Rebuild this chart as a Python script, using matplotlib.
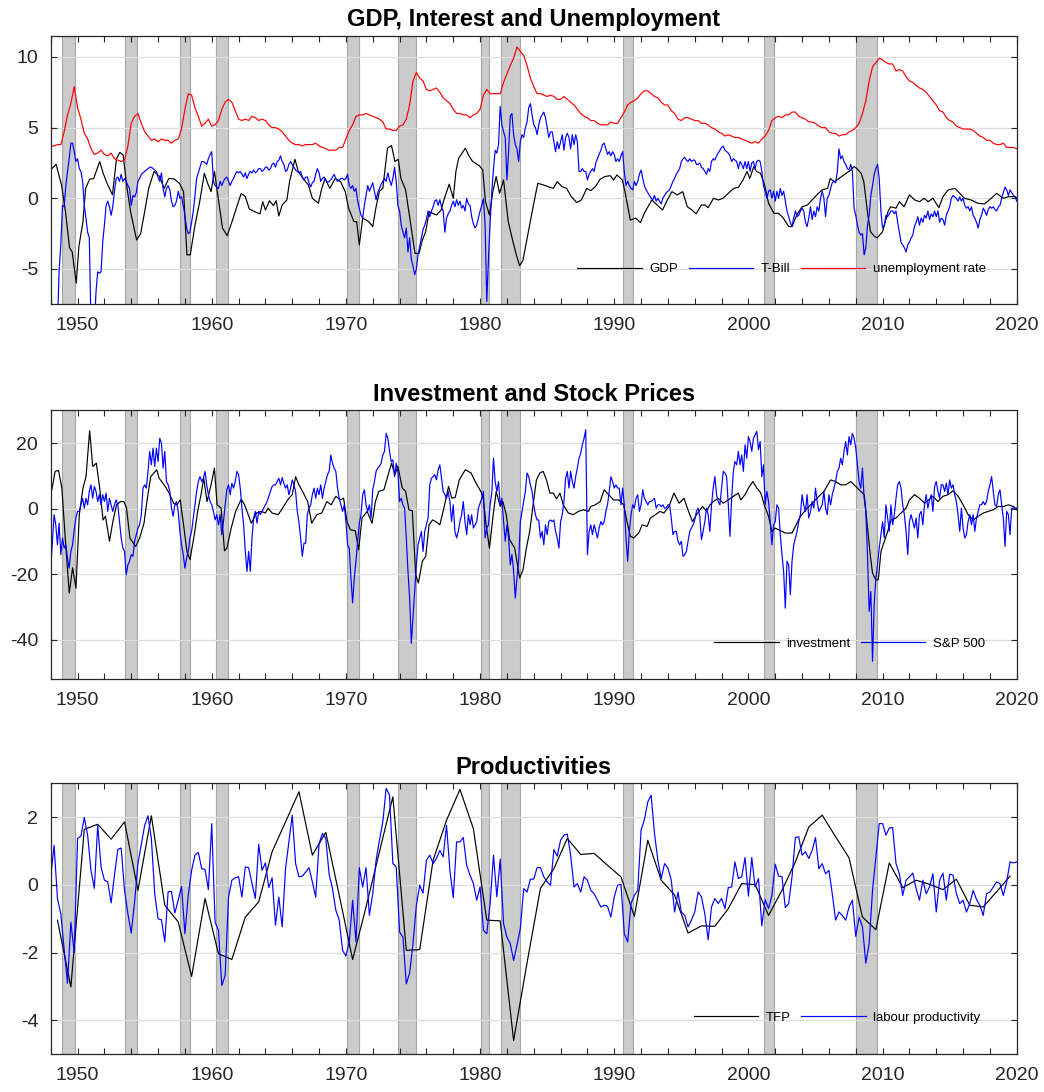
import numpy as np
import matplotlib
matplotlib.use('Agg')
import matplotlib.pyplot as plt
from matplotlib.ticker import FixedLocator

plt.rcParams['font.family'] = ['Liberation Sans', 'DejaVu Sans']
plt.rcParams['axes.unicode_minus'] = False

###### DATA ##########
# NBER recessions (start, end), as shaded in the chart
recessions = [(1948.85, 1949.8), (1953.55, 1954.4), (1957.65, 1958.35), (1960.35, 1961.2),
              (1970.1, 1971.0), (1973.875, 1975.25), (1980.08, 1980.65), (1981.58, 1982.98),
              (1990.65, 1991.375), (2001.175, 2001.925), (2008.0, 2009.55)]

# unemployment rate, quarterly from 1948.0
unemp_start, unemp_step = 1948.0, 0.25
unemp = [3.7, 3.7, 3.8, 3.8, 4.7, 5.9, 6.7, 7.9, 6.4, 5.6, 4.6, 4.2, 3.5, 3.1, 3.2, 3.4,
         3.1, 3.0, 3.2, 2.8, 2.7, 2.6, 2.7, 3.7, 5.3, 5.8, 6.0, 5.3, 4.7, 4.4, 4.1, 4.2,
         4.0, 4.2, 4.1, 4.1, 3.9, 4.1, 4.2, 4.9, 6.3, 7.4, 7.3, 6.4, 5.8, 5.1, 5.3, 5.6,
         5.1, 5.2, 5.5, 6.3, 6.8, 7.0, 6.8, 6.2, 5.6, 5.5, 5.6, 5.5, 5.8, 5.7, 5.5, 5.6,
         5.5, 5.2, 5.0, 5.0, 4.9, 4.7, 4.4, 4.1, 3.9, 3.8, 3.8, 3.7, 3.8, 3.8, 3.8, 3.9,
         3.7, 3.6, 3.5, 3.4, 3.4, 3.4, 3.6, 3.6, 4.2, 4.8, 5.2, 5.8, 5.9, 5.9, 6.0, 5.9,
         5.8, 5.7, 5.6, 5.4, 4.9, 4.9, 4.8, 4.8, 5.1, 5.2, 5.6, 6.6, 8.3, 8.9, 8.5, 8.3,
         7.7, 7.6, 7.7, 7.8, 7.5, 7.1, 6.9, 6.7, 6.3, 6.0, 6.0, 5.9, 5.9, 5.7, 5.9, 6.0,
         6.3, 7.3, 7.7, 7.4, 7.4, 7.4, 7.4, 8.2, 8.8, 9.4, 9.9, 10.7, 10.4, 10.1, 9.4, 8.5,
         7.9, 7.4, 7.4, 7.3, 7.2, 7.3, 7.2, 7.0, 7.0, 7.2, 7.0, 6.8, 6.6, 6.3, 6.0, 5.8,
         5.7, 5.5, 5.5, 5.3, 5.2, 5.2, 5.2, 5.4, 5.3, 5.3, 5.7, 6.1, 6.6, 6.8, 6.9, 7.1,
         7.4, 7.6, 7.6, 7.4, 7.2, 7.1, 6.8, 6.6, 6.6, 6.2, 6.0, 5.6, 5.5, 5.7, 5.7, 5.6,
         5.5, 5.5, 5.3, 5.3, 5.2, 5.0, 4.9, 4.7, 4.6, 4.4, 4.5, 4.4, 4.3, 4.3, 4.2, 4.1,
         4.0, 3.9, 4.0, 3.9, 4.2, 4.4, 4.8, 5.5, 5.7, 5.8, 5.7, 5.9, 5.9, 6.1, 6.1, 5.8,
         5.7, 5.6, 5.4, 5.4, 5.3, 5.1, 5.0, 5.0, 4.7, 4.6, 4.6, 4.4, 4.5, 4.5, 4.7, 4.8,
         5.0, 5.3, 6.0, 6.9, 8.3, 9.3, 9.6, 9.9, 9.8, 9.6, 9.5, 9.5, 9.0, 9.1, 9.0, 8.6,
         8.3, 8.2, 8.0, 7.8, 7.7, 7.5, 7.2, 6.9, 6.6, 6.2, 6.1, 5.7, 5.5, 5.4, 5.1, 5.0,
         4.9, 4.9, 4.9, 4.8, 4.6, 4.4, 4.3, 4.1, 4.1, 3.9, 3.8, 3.8, 3.9, 3.6, 3.6, 3.6,
         3.5]

# T-Bill (real), every 1.5 months from 1948.0
tbill_start, tbill_step = 1948.0, 0.125
tbill = [-5.9, -9, -9, -9, -9, -5.1, -3.3, -0.5, -0.6, 0.9, 1.9, 2.8, 3.9, 3.9, 3.3, 2.6,
         2.8, 2.1, 1.9, 1.2, -0.5, -1.4, -2.4, -2.8, -9, -9, -9, -6.6, -5.2, -5.3, -5.2, -3.1,
         -1.9, -0.5, -0.2, -0.6, -1.2, -0.6, 0.5, 1.4, 1.5, 1.2, 1.7, 1.2, 1.4, 1.2, 0.9, 0.7,
         -0.5, 0.2, 0.1, 0.4, 1.2, 1.4, 1.7, 1.8, 1.9, 2.0, 2.1, 2.2, 2.2, 2.1, 2.0, 1.9,
         1.5, 1.2, 1.8, 0.7, 0.1, 0.7, 0.9, 0.6, -0.2, -0.6, -0.5, -0.2, 0.5, 0.0, 0.1, -0.5,
         -1.2, -2.1, -2.5, -2.4, -1.7, -0.9, 0.2, 1.4, 1.8, 2.2, 2.6, 2.6, 2.5, 2.4, 2.8, 3.1,
         3.3, 1.2, 0.9, 0.8, 0.7, 1.2, 0.9, 1.2, 1.4, 1.5, 1.2, 0.9, 1.2, 1.4, 1.7, 1.9,
         1.8, 1.9, 1.7, 1.5, 1.8, 1.4, 1.7, 1.9, 1.8, 2.0, 1.8, 1.9, 2.1, 2.1, 1.9, 2.0,
         2.2, 2.2, 2.0, 2.1, 2.4, 2.5, 2.2, 2.6, 2.7, 3.0, 2.6, 2.4, 1.9, 2.0, 2.4, 2.6,
         2.4, 2.2, 2.0, 1.9, 1.8, 1.9, 1.5, 1.3, 1.5, 1.5, 1.1, 0.8, 1.1, 1.2, 1.7, 2.1,
         1.8, 1.2, 1.4, 1.5, 1.3, 1.1, 1.2, 1.3, 1.5, 1.7, 1.4, 1.2, 1.3, 1.4, 1.4, 1.3,
         1.4, 1.7, 0.9, 0.7, 0.9, 0.5, 0.7, -0.2, -0.7, -1.2, -1.4, -0.5, 0.2, 0.9, 0.5, 0.8,
         1.1, 0.5, -0.1, 0.4, 0.7, 1.0, 1.2, 1.4, 1.2, 1.8, 1.3, 0.9, 1.4, 2.2, 1.2, -0.5,
         -0.9, -1.9, -2.4, -2.8, -2.1, -3.8, -2.8, -4.3, -4.8, -5.4, -5.0, -4.0, -3.4, -2.8, -2.2, -1.9,
         -1.5, -0.9, -1.3, -0.9, -0.6, -0.2, -0.1, -0.5, -0.1, -0.6, -0.9, -2.4, -1.4, -1.1, -0.9, -0.5,
         -0.2, -0.6, -0.1, -0.5, -0.2, -0.7, -0.5, -0.9, 0.0, -0.4, -0.5, -1.3, -1.8, -2.1, -1.9, -1.4,
         -0.9, -0.5, 0.0, -1.9, -7.3, -4.3, -1.7, 0.5, 2.1, 3.4, 3.2, 3.8, 6.5, 5.2, 4.7, 4.3,
         1.3, 3.3, 5.8, 6.0, 4.5, 3.8, 3.5, 2.6, 4.0, 4.5, 4.3, 5.0, 5.4, 6.4, 6.7, 5.9,
         5.2, 5.0, 4.5, 5.2, 5.7, 5.9, 6.1, 5.7, 5.0, 4.3, 4.7, 4.7, 4.0, 3.3, 4.0, 3.5,
         4.0, 4.5, 3.4, 4.3, 4.6, 4.3, 3.5, 4.5, 3.8, 4.5, 4.0, 1.9, 1.9, 2.1, 1.9, 1.9,
         1.3, 1.7, 1.9, 2.1, 1.9, 2.5, 2.8, 3.1, 3.4, 3.8, 3.9, 3.5, 3.1, 3.3, 3.0, 3.3,
         3.1, 2.6, 2.8, 2.6, 3.0, 3.3, 1.9, 0.9, 1.2, 0.9, 0.7, 0.6, 1.2, 0.9, 1.2, 1.7,
         2.0, 1.4, 0.9, 0.6, 0.4, 0.2, 0.0, -0.1, 0.2, -0.2, 0.0, -0.2, -0.4, 0.0, 0.2, 0.4,
         0.5, 0.6, 0.9, 1.2, 1.4, 1.7, 1.9, 2.1, 2.6, 2.8, 2.9, 2.7, 2.6, 2.8, 2.6, 2.7,
         2.7, 2.4, 2.4, 2.5, 2.2, 2.1, 1.9, 1.7, 2.1, 1.9, 2.6, 2.8, 2.7, 3.0, 3.2, 3.4,
         3.6, 3.7, 3.4, 3.3, 3.2, 3.0, 2.6, 2.8, 2.7, 2.6, 2.1, 2.6, 2.4, 2.1, 2.6, 2.1,
         2.6, 1.9, 2.5, 2.6, 2.1, 2.6, 2.7, 2.6, 1.9, 0.9, 0.5, 0.0, 0.5, 0.6, 0.0, 0.5,
         -0.2, 0.5, 0.0, 0.7, 0.2, 0.5, -0.2, -0.9, -1.3, -1.7, -2.0, -1.4, -0.9, -1.3, -1.2, -0.9,
         -0.7, -0.9, -1.7, -2.0, -1.4, -0.6, -1.5, -0.9, -1.3, -0.6, -0.9, 0.0, 0.5, 0.0, -1.3, 0.0,
         0.2, 0.7, 1.1, 1.2, 1.1, 1.9, 3.5, 2.8, 3.0, 2.6, 2.4, 2.1, 2.0, 2.4, 1.9, -0.7,
         -1.2, -1.9, -2.4, -2.6, -2.5, -4.0, -3.5, -1.9, -1.2, 0.2, 0.9, 1.7, 2.1, 2.4, 1.4, -0.9,
         -2.1, -1.9, -1.2, -1.3, -1.1, -0.9, -0.9, -1.1, -0.9, -1.7, -2.4, -3.1, -3.3, -3.5, -3.8, -3.3,
         -3.1, -2.8, -2.6, -2.0, -1.7, -1.3, -1.9, -1.4, -1.7, -1.2, -1.4, -0.9, -1.5, -1.1, -1.3, -0.9,
         -1.3, -0.9, -1.7, -1.4, -1.5, -1.9, -1.2, -0.9, -0.6, 0.0, 0.2, 0.1, 0.0, -0.2, 0.1, -0.2,
         0.0, -0.5, -0.7, -0.6, -0.9, -0.6, -1.2, -1.4, -1.7, -2.1, -1.5, -1.2, -0.7, -0.9, -1.2, -0.8,
         -0.6, -0.7, -0.6, -0.8, -0.9, -0.6, -0.5, 0.0, 0.4, 0.8, 0.6, 0.2, 0.6, 0.4, 0.2, 0.1,
         -0.2]

# GDP (cyclical component)
gdp_year = [1948.08, 1948.4, 1948.8, 1949.1, 1949.4, 1949.6, 1949.9, 1950.1, 1950.4, 1950.6,
            1950.9, 1951.2, 1951.65, 1951.9, 1952.2, 1952.6, 1952.9, 1953.15, 1953.4, 1953.65,
            1953.95, 1954.4, 1954.7, 1955.0, 1955.3, 1955.7, 1956.1, 1956.45, 1956.8, 1957.2,
            1957.6, 1957.9, 1958.15, 1958.4, 1958.75, 1959.1, 1959.45, 1959.7, 1959.95, 1960.2,
            1960.45, 1960.8, 1961.15, 1961.6, 1961.95, 1962.2, 1962.5, 1962.8, 1963.2, 1963.6,
            1963.8, 1964.0, 1964.3, 1964.6, 1964.8, 1965.0, 1965.25, 1965.6, 1965.8, 1966.2,
            1966.45, 1966.8, 1967.2, 1967.5, 1967.95, 1968.2, 1968.45, 1968.8, 1969.2, 1969.6,
            1969.95, 1970.2, 1970.6, 1970.8, 1971.0, 1971.25, 1971.7, 1972.0, 1972.25, 1972.5,
            1972.75, 1973.1, 1973.4, 1973.65, 1973.9, 1974.1, 1974.45, 1974.8, 1975.15, 1975.45,
            1975.7, 1975.95, 1976.2, 1976.45, 1976.75, 1977.1, 1977.3, 1977.7, 1978.0, 1978.2,
            1978.4, 1978.9, 1979.2, 1979.45, 1979.95, 1980.2, 1980.4, 1980.7, 1980.95, 1981.2,
            1981.45, 1981.75, 1982.1, 1982.45, 1982.7, 1982.95, 1983.2, 1983.6, 1983.95, 1984.3,
            1984.7, 1985.2, 1985.45, 1985.75, 1986.1, 1986.45, 1986.8, 1987.2, 1987.55, 1987.95,
            1988.25, 1988.6, 1988.95, 1989.3, 1989.7, 1989.95, 1990.2, 1990.6, 1990.8, 1991.2,
            1991.6, 1991.95, 1992.3, 1992.8, 1993.2, 1993.6, 1993.95, 1994.3, 1994.7, 1995.1,
            1995.45, 1995.8, 1996.1, 1996.5, 1996.75, 1997.0, 1997.4, 1997.75, 1998.1, 1998.5,
            1998.9, 1999.25, 1999.6, 1999.9, 2000.1, 2000.4, 2000.6, 2000.9, 2001.2, 2001.5,
            2001.9, 2002.25, 2002.6, 2003.0, 2003.25, 2003.6, 2004.0, 2004.4, 2004.75, 2005.1,
            2005.5, 2005.9, 2006.1, 2006.4, 2006.75, 2007.1, 2007.5, 2007.9, 2008.1, 2008.4,
            2008.6, 2008.9, 2009.1, 2009.4, 2009.6, 2010.0, 2010.4, 2010.6, 2011.0, 2011.25,
            2011.6, 2012.0, 2012.4, 2012.75, 2013.1, 2013.4, 2013.75, 2014.2, 2014.5, 2014.9,
            2015.4, 2015.75, 2016.1, 2016.6, 2017.1, 2017.6, 2018.1, 2018.5, 2019.0, 2019.4,
            2019.9, 2020.0]
gdp = [2.1, 2.4, 0.95, -0.95, -3.5, -3.8, -6.0, -3.4, -1.65, 0.7,
       1.35, 1.4, 2.6, 1.8, 1.05, 0.25, 2.8, 3.25, 3.05, 0.95,
       -0.95, -2.95, -2.5, -0.95, 0.7, 1.9, 1.55, 0.7, 1.4, 1.37,
       1.05, 0.47, -4.0, -4.0, -1.9, -0.25, 1.77, 1.05, 0.47, 1.9,
       0.24, -2.1, -2.65, -1.4, -0.35, 0.35, 0.12, -0.75, -0.95, -1.1,
       -0.24, -0.83, -0.17, -0.52, -0.17, -1.25, -0.47, -0.12, 1.18, 2.76,
       1.9, 1.4, 0.95, 0.0, -0.35, 0.7, 1.4, 0.7, 1.4, 1.18,
       0.47, -0.7, -1.65, -1.65, -3.3, -1.4, -1.65, -2.0, -0.6, 0.5,
       0.7, 3.55, 3.73, 2.6, 2.76, 1.4, 0.6, -1.65, -3.9, -3.9,
       -2.95, -2.36, -0.95, -1.06, -1.18, -0.83, -0.12, 1.0, 0.0, 1.9,
       2.83, 3.54, 2.95, 2.6, 2.3, 2.0, -0.24, -1.18, 0.47, 1.54,
       0.35, 1.3, -1.65, -3.07, -4.0, -4.77, -4.37, -2.36, -0.6, 1.06,
       0.95, 0.78, 0.7, 1.18, 0.83, 0.7, 0.12, -0.3, -0.12, 0.7,
       0.54, 0.83, 1.35, 1.54, 1.6, 1.3, 1.65, 1.3, 0.47, -1.54,
       -1.4, -1.72, -0.95, -0.12, -0.47, -0.83, -0.12, 0.47, 0.24, 0.47,
       -0.6, -0.83, -1.1, -0.47, -0.47, -0.66, 0.0, -0.12, 0.0, 0.35,
       0.7, 0.78, 1.3, 1.9, 1.4, 2.24, 1.9, 1.77, 0.95, -0.35,
       -1.06, -1.06, -1.4, -2.0, -2.0, -1.18, -0.6, -0.47, -0.12, 0.24,
       0.6, 0.7, 1.4, 1.18, 1.4, 1.65, 1.9, 2.24, 2.08, 1.77,
       1.18, -1.18, -2.36, -2.7, -2.8, -2.36, -0.95, -0.6, -0.7, -0.24,
       -0.6, 0.24, -0.12, -0.24, 0.0, -0.24, 0.0, -0.66, 0.12, 0.6,
       0.7, 0.35, 0.0, -0.12, -0.35, -0.4, 0.0, 0.35, 0.0, 0.12,
       0.12, 0.0]

# investment (cyclical component)
inv_year = [1948.08, 1948.33, 1948.58, 1948.83, 1949.08, 1949.38, 1949.63, 1949.88, 1950.13, 1950.4,
            1950.63, 1950.9, 1951.13, 1951.4, 1951.65, 1951.9, 1952.08, 1952.38, 1952.63, 1952.9,
            1953.2, 1953.45, 1953.65, 1953.9, 1954.33, 1954.63, 1954.95, 1955.2, 1955.45, 1955.9,
            1956.08, 1956.45, 1956.83, 1957.15, 1957.4, 1957.65, 1957.9, 1958.15, 1958.38, 1958.7,
            1958.95, 1959.2, 1959.4, 1959.65, 1959.95, 1960.2, 1960.4, 1960.7, 1960.95, 1961.13,
            1961.45, 1961.78, 1962.2, 1962.45, 1962.95, 1963.33, 1963.7, 1964.0, 1964.2, 1964.5,
            1964.95, 1965.2, 1965.58, 1965.75, 1966.0, 1966.25, 1966.5, 1966.83, 1967.15, 1967.45,
            1967.83, 1968.2, 1968.58, 1968.9, 1969.25, 1969.58, 1969.83, 1970.08, 1970.33, 1970.7,
            1970.95, 1971.2, 1971.58, 1971.95, 1972.2, 1972.45, 1972.83, 1973.08, 1973.4, 1973.65,
            1973.88, 1974.2, 1974.45, 1974.7, 1974.95, 1975.2, 1975.4, 1975.7, 1975.95, 1976.2,
            1976.45, 1976.7, 1977.0, 1977.33, 1977.65, 1977.9, 1978.15, 1978.45, 1978.9, 1979.33,
            1979.7, 1980.08, 1980.25, 1980.45, 1980.7, 1980.95, 1981.2, 1981.5, 1981.7, 1981.95,
            1982.2, 1982.58, 1982.95, 1983.2, 1983.45, 1983.7, 1983.95, 1984.2, 1984.45, 1984.7,
            1984.95, 1985.2, 1985.45, 1985.7, 1985.95, 1986.2, 1986.58, 1986.95, 1987.33, 1987.7,
            1988.08, 1988.25, 1988.58, 1988.95, 1989.25, 1989.58, 1989.95, 1990.33, 1990.7, 1990.95,
            1991.2, 1991.45, 1991.83, 1992.08, 1992.45, 1992.7, 1993.08, 1993.4, 1993.7, 1994.08,
            1994.45, 1994.83, 1995.2, 1995.45, 1995.83, 1996.13, 1996.58, 1996.88, 1997.13, 1997.38,
            1997.75, 1998.13, 1998.5, 1998.88, 1999.25, 1999.43, 1999.75, 2000.0, 2000.33, 2000.63,
            2000.93, 2001.18, 2001.5, 2001.75, 2002.0, 2002.25, 2002.75, 2003.25, 2003.5, 2003.88,
            2004.38, 2004.88, 2005.25, 2005.63, 2006.13, 2006.5, 2006.88, 2007.25, 2007.63, 2008.0,
            2008.38, 2008.63, 2008.83, 2009.08, 2009.25, 2009.5, 2009.68, 2009.88, 2010.13, 2010.38,
            2010.63, 2011.0, 2011.38, 2011.75, 2012.0, 2012.38, 2012.75, 2013.13, 2013.43, 2013.75,
            2014.13, 2014.5, 2014.88, 2015.25, 2015.63, 2016.0, 2016.38, 2016.75, 2017.13, 2017.5,
            2017.88, 2018.25, 2018.63, 2019.0, 2019.38, 2019.75, 2020.0]
inv = [5.8, 11.4, 11.7, 6.3, -8.9, -25.7, -18.0, -24.2, -1.8, 6.3,
       9.8, 23.8, 12.9, 13.9, 6.3, -3.4, -2.3, -9.9, -3.9, 1.2,
       2.2, 2.2, 0.2, -8.9, -11.5, -8.9, -4.4, 3.2, 9.8, 11.9,
       9.3, 7.3, 4.8, 1.7, 1.2, 2.7, -4.9, -13.0, -15.5, -7.9,
       -0.8, 4.3, 9.3, 2.2, 7.3, 12.4, 1.2, 0.2, -12.8, -12.0,
       -5.9, -0.8, 2.9, 1.2, -4.4, -1.3, -0.8, -1.3, 0.2, -1.3,
       -1.8, -0.3, 2.2, 3.2, 4.3, 9.8, 7.3, 4.8, 2.2, -4.4,
       -1.8, -1.3, 2.2, 1.2, 3.8, 2.7, 3.2, -3.9, -6.4, -6.7,
       -12.5, -2.8, -0.8, -4.4, 2.2, 5.3, 5.8, 9.3, 13.9, 10.4,
       12.9, 6.3, 5.3, -0.3, -0.6, -20.1, -22.6, -16.0, -14.5, -4.9,
       -3.4, -3.9, -4.9, 0.7, 6.8, 3.2, 3.5, 8.8, 11.9, 10.9,
       7.8, 5.1, 2.7, -4.9, -12.0, -2.8, 5.3, 0.7, 2.2, -1.8,
       -9.4, -12.0, -21.1, -18.6, -12.0, -6.9, 1.2, 8.8, 10.9, 11.4,
       8.8, 4.8, 4.8, 3.0, 4.8, 1.2, -1.3, -1.8, -0.8, -0.3,
       -0.8, 0.7, 1.2, 2.2, 5.8, 4.3, 2.7, 2.7, 1.2, -3.9,
       -8.4, -8.9, -7.4, -4.9, -5.4, -2.8, -1.8, -0.8, -1.3, 0.7,
       4.8, 1.7, 3.2, 0.2, -3.9, -1.8, 0.7, -0.8, 1.2, 2.2,
       3.2, 1.7, 2.7, 3.8, 4.8, 2.7, 4.3, 6.3, 8.3, 6.3,
       4.8, 1.2, -2.3, -6.9, -5.9, -6.4, -7.4, -7.4, -5.4, -2.3,
       0.2, 2.2, 3.8, 5.3, 8.8, 8.3, 7.3, 7.3, 8.3, 6.8,
       5.3, 4.3, -3.9, -14.0, -19.6, -21.7, -21.7, -13.0, -9.9, -6.9,
       -3.4, -2.8, -1.3, 0.2, 2.7, 4.3, 3.2, 1.7, 2.7, 3.8,
       2.2, 3.8, 4.3, 5.5, 3.8, 1.2, -1.8, -3.4, -2.3, -1.3,
       -0.8, -0.3, 0.7, 0.7, 1.2, 0.7, -0.3]

# S&P 500 (cyclical component), every 1.5 months from 1948.0
sp_start, sp_step = 1948.0, 0.125
sp500 = [-18.1, -9.9, -1.8, -4.9, -11.0, -4.4, -14.0, -8.9, -12.0, -11.0, -15.0, -18.1, -13.0, -11.0, -6.4, -2.8,
         -0.8, -0.8, 1.2, 3.2, 0.2, 3.2, 1.2, 5.3, 7.3, 3.2, 6.8, 5.3, 2.2, 4.3, 1.2, 4.3,
         2.2, 4.8, -0.8, 3.2, 1.2, -0.8, 1.2, 2.7, 1.2, -3.9, -8.9, -12.0, -13.0, -20.1, -17.1, -16.0,
         -14.0, -14.5, -9.9, -7.9, -5.9, -4.9, -1.8, 6.3, 7.3, 6.3, 11.4, 17.5, 13.4, 18.5, 12.9, 18.5,
         14.4, 21.5, 20.0, 12.4, 17.5, 8.3, 7.3, 5.3, 0.2, -2.3, 1.2, 2.2, -0.8, -6.9, -11.0, -14.0,
         -18.1, -15.0, -13.0, -8.9, -6.9, -2.8, 1.2, 5.3, 8.3, 9.8, 8.3, 9.3, 11.4, 7.3, 4.3, 2.2,
         1.2, -0.8, -3.4, -1.8, -4.9, -1.8, -7.9, -3.9, 1.2, 5.8, 7.3, 4.3, 7.8, 6.3, 8.3, 11.4,
         10.4, 6.3, 0.2, -4.9, -13.0, -19.1, -13.0, -19.1, -8.9, -2.8, -0.8, -4.4, -0.8, -1.8, -0.8, 0.2,
         1.2, 2.2, 3.8, 5.3, 6.8, 7.3, 7.3, 8.3, 9.3, 7.3, 9.5, 7.8, 6.3, 7.3, 4.3, 6.3,
         8.8, 7.3, 5.3, -0.8, -3.9, -8.9, -14.5, -10.5, -10.5, -1.8, 0.2, 1.2, 4.3, 6.3, 3.2, 6.3,
         4.3, 7.3, 3.2, 6.3, 8.3, 10.4, 11.4, 16.4, 13.9, 12.4, 11.4, 6.3, 3.2, 1.2, -0.8, 1.2,
         -3.9, -11.0, -12.0, -21.1, -28.7, -21.1, -16.0, -9.9, -4.4, -1.8, 4.3, 5.8, 1.2, -0.8, 1.2, -2.8,
         5.8, 8.3, 11.4, 12.4, 12.9, 13.9, 16.4, 17.5, 23.0, 21.5, 17.5, 14.4, 14.9, 9.8, 13.9, 11.4,
         2.2, 3.2, 1.2, 0.2, -8.9, -19.1, -27.2, -41.0, -33.3, -25.2, -17.1, -11.0, -8.9, -6.9, -13.0, -6.9,
         -4.9, -2.8, 7.3, 9.3, 9.8, 10.4, 8.8, 11.9, 13.4, 9.3, 5.3, 4.3, 3.2, 5.3, 2.2, -3.9,
         1.2, -6.9, -8.9, -6.9, -3.9, -1.8, 2.2, -3.9, -7.9, -1.8, -4.9, -1.8, -5.9, -4.9, -3.9, 0.2,
         1.7, 3.2, 5.3, -8.9, -5.9, -4.9, 1.2, 4.8, 15.4, 8.3, 5.3, 8.3, 1.2, 3.2, -3.9, -9.9,
         -4.9, -8.9, -17.1, -14.0, -19.1, -27.2, -21.1, -16.0, -3.9, -0.8, 2.2, 5.3, 10.9, 9.8, 7.3, 5.3,
         1.2, -1.8, -3.4, -3.4, -8.9, -6.9, -11.0, -4.9, -7.9, -3.9, -3.4, -3.9, -3.4, -6.9, -8.9, -12.0,
         -3.9, -1.8, 2.2, 9.3, 11.4, 6.3, 11.4, 8.3, 6.3, 9.8, 12.4, 15.4, 17.0, 19.5, 21.5, 24.1,
         -14.0, -6.9, -4.9, -7.9, -4.9, -6.9, -8.9, -5.9, -3.9, -4.9, -3.9, -0.8, 1.2, 5.3, 9.8, 8.3,
         6.3, 7.3, 6.3, 6.3, 1.2, 6.3, 1.2, -8.9, -16.0, -6.9, -1.8, 1.2, 0.2, 3.2, 4.3, -0.8,
         1.2, 5.8, 3.2, 2.2, 1.2, 2.2, 2.2, 2.7, 3.2, 0.2, 1.2, 1.2, 0.7, 1.2, 0.2, 0.2,
         1.2, 1.2, -2.8, -7.9, -6.9, -6.9, -9.9, -11.0, -9.9, -14.5, -14.0, -13.0, -9.9, -6.9, -5.9, -4.9,
         -3.4, -0.8, 0.2, -2.3, -9.4, -6.9, -3.9, 0.2, -1.8, -6.9, 1.2, 6.3, 9.8, 4.3, 2.2, 1.2,
         6.3, 11.4, 10.9, 9.8, 1.2, -8.4, 3.2, 11.4, 14.4, 13.4, 17.5, 13.4, 16.4, 11.4, 19.5, 15.4,
         22.0, 20.5, 17.5, 21.5, 22.5, 23.6, 18.0, 20.5, 9.8, 13.4, 1.2, 5.3, 2.2, -3.9, -11.0, -4.9,
         -3.9, 1.2, 0.2, -7.9, -14.0, -19.1, -30.3, -16.0, -17.1, -26.2, -16.0, -11.0, -8.9, -6.9, -3.9, -1.8,
         4.3, 1.2, -0.8, 4.3, -2.8, -0.8, 2.2, 0.2, 6.3, 2.2, -0.8, 0.2, 1.2, 5.3, 0.2, -1.8,
         4.3, 1.2, 4.3, 6.3, 8.3, 11.4, 12.4, 15.4, 13.4, 17.5, 20.5, 16.4, 22.0, 19.5, 23.0, 21.5,
         18.5, 13.4, 8.3, 6.3, 12.4, 3.2, -0.8, -14.0, -31.3, -25.2, -46.5, -29.2, -21.1, -17.1, -12.0, -7.9,
         -3.9, -8.9, 1.2, -2.8, -6.9, 1.2, -4.9, -1.8, 3.2, 7.3, 8.3, 6.3, 1.2, -1.8, -6.9, -14.0,
         -3.9, -1.8, -3.9, -5.9, -2.8, -8.9, -1.8, -0.8, -4.9, 1.2, 4.3, 0.2, 2.7, 4.3, -0.8, 6.8,
         8.3, 5.3, 3.2, 7.3, 7.3, 5.3, 7.8, 4.3, 8.8, 6.3, 7.3, 4.3, 2.2, -1.8, -6.9, 0.2,
         -5.9, -8.9, -7.9, -3.9, -1.8, -4.9, -1.8, -6.9, -2.8, -0.8, 1.2, 1.2, 2.2, 1.2, 2.2, 5.3,
         7.3, 9.8, 5.3, 1.2, 0.7, 4.3, 5.8, 1.2, -2.8, -11.5, -0.8, -1.8, -7.9, 0.2, 0.2, 0.2,
         0.2]

# TFP, annual (mid-year)
tfp_start, tfp_step = 1948.5, 1.0
tfp = [-1.04, -3.01, 1.64, 1.79, 1.35, 1.86, -0.16, 2.04, -0.6, -1.09,
       -2.7, -0.4, -2.03, -2.2, -0.95, -0.5, 0.98, 1.86, 2.75, 0.88,
       1.55, -0.3, -2.2, -0.65, 0.98, 2.6, -1.93, -1.91, 0.73, 1.91,
       2.82, 1.66, -1.04, -1.06, -4.59, -2.3, -0.1, 0.48, 1.37, 0.9,
       0.93, 0.58, 0.24, -0.93, 1.32, 0.14, -0.3, -1.42, -1.21, -1.22,
       -0.7, 0.04, 0.01, -0.9, -0.16, 0.68, 1.71, 2.06, 1.42, 0.8,
       -0.95, -1.32, 0.65, -0.08, 0.14, 0.02, -0.14, 0.17, -0.6, -0.65,
       -0.2, 0.26]

# labour productivity, quarterly from 1948.0
lp_start, lp_step = 1948.0, 0.25
labprod = [0.24, 1.17, -0.4, -0.85, -1.9, -2.9, -1.1, -2.0,
           1.37, 1.44, 1.99, 1.47, 0.43, -0.1, 1.76, 0.53,
           0.14, 0.09, -0.53, 0.29, 1.05, 1.09, -0.16, -0.85,
           -1.42, -0.5, 0.63, 1.2, 1.76, 2.04, 1.37, -0.26,
           -1.0, -1.03, -1.68, -0.2, -0.19, -0.83, -0.45, -0.04,
           -1.44, -0.3, 0.43, 0.88, 0.96, 0.48, 0.46, -0.14,
           1.81, -1.1, -1.34, -2.97, -2.67, -0.36, 0.14, 0.21,
           0.24, -0.36, 0.53, 0.51, 0.04, -0.4, 1.2, 0.43,
           0.65, -0.08, 0.21, -1.19, -0.36, -1.24, 0.48, 1.27,
           2.06, 0.63, 0.24, 0.26, 0.38, 0.51, 0.09, -0.36,
           1.22, 1.52, 1.37, 0.31, -0.11, -0.75, -1.04, -1.93,
           -2.1, -1.68, -0.45, -1.68, 0.51, -0.06, 0.51, -0.9,
           -0.26, 0.73, 1.32, 1.86,
           2.85, 2.65, 0.63, 0.53, -1.39, -1.54, -2.92, -2.6,
           -1.73, -0.6, -0.01, -0.24, 0.73, 0.88, 0.63, 0.78,
           1.02, 0.83, 1.76, 0.43, -0.38, 1.27, 1.27, 1.4,
           0.58, 0.29, 0.04, -0.45, -0.06, -1.34, -1.44, -0.55,
           0.88, -0.35, 0.76, -1.14, -1.54, -1.73, -2.23, -1.78,
           -1.29, -0.11, -0.21, 0.17, 0.17, 0.51, 0.51, 0.24,
           0.09, -0.01, 1.04, 0.85, 1.32, 1.47, 1.5, 0.88,
           -0.06, 0.04, -0.21, 0.24, 0.14, -0.16, -0.26, -0.45,
           -0.65, -0.6, -0.63, -0.95, -0.35, -0.01, 0.02, -1.44,
           -1.68, -0.55, -0.31, -0.16, 1.62, 1.93, 2.45, 2.65,
           1.52, 0.73, 0.19, 0.63, 0.5, 0.14, -0.8, -0.21,
           -0.8, -0.9, -1.24, -1.04,
           -0.8, -0.21, -0.35, -0.85, -1.62, -0.65, -0.4, -0.55,
           -0.4, -0.7, -0.08, -0.06, 0.68, 0.19, 0.24, 0.81,
           -0.33, 0.81, -0.06, 0.19, -1.21, -0.43, -0.7, -0.31,
           0.61, 0.26, 0.24, -0.67, -0.55, 0.24, 1.4, 1.42,
           0.88, 0.98, 0.78, 1.02, 1.4, 0.48, 0.63, 0.33,
           0.43, -0.26, -1.04, -0.8, -0.9, -1.04, -0.65, -0.45,
           -1.52, -0.95, -1.24, -2.31, -1.73, -0.16, 0.83, 1.81,
           1.81, 1.47, 1.68, 1.69, 0.63, 0.33, -0.31, 0.14,
           0.24, 0.35, -0.11, -0.45, 0.14, -0.26, -0.06, 0.33,
           -0.8, 0.14, 0.35, -0.45, 0.32, 0.29, -0.26, -0.55,
           -0.45, -0.8, -0.55, -0.16, -0.43, -0.6, -0.9, -0.26,
           -0.21, -0.06, 0.09, 0.04, -0.31, 0.09, 0.68, 0.65,
           0.68]
########################

FRAME = '#262626'
GRID = '#dedede'
BLUE = '#0000ff'
LW = 0.85


def series_time(start, step, values):
    return start + step * np.arange(len(values))


def setup_axis(ax, title, ylim, yticks):
    for a, b in recessions:
        ax.axvspan(a, b, facecolor='#cbcbcb', edgecolor='#a6a6a6', lw=0.8, zorder=0)
    ax.set_xlim(1948, 2020)
    ax.set_ylim(*ylim)
    xt = np.arange(1948, 2021, 2)
    ax.xaxis.set_major_locator(FixedLocator(xt))
    ax.set_xticklabels([str(y) if y % 10 == 0 else '' for y in xt])
    ax.set_yticks(yticks)
    ax.set_yticklabels([str(v) for v in yticks])
    ax.yaxis.grid(True, color=GRID, lw=0.9)
    ax.tick_params(direction='in', length=4, width=0.8, color=FRAME, labelcolor=FRAME,
                   labelsize=14, top=True, right=True)
    ax.tick_params(axis='x', pad=9)
    ax.tick_params(axis='y', pad=9)
    for s in ax.spines.values():
        s.set_color(FRAME)
        s.set_linewidth(0.9)
    ax.set_title(title, fontsize=17, fontweight='bold', color='black', pad=7)


fig = plt.figure(figsize=(10.44, 10.92), dpi=100)
ax1 = fig.add_axes([0.0486, 0.7213, 0.9253, 0.2460])
ax2 = fig.add_axes([0.0486, 0.3779, 0.9253, 0.2463])
ax3 = fig.add_axes([0.0486, 0.0345, 0.9253, 0.2482])

leg_kw = dict(frameon=False, fontsize=9.5, handlelength=4.9, handletextpad=0.55,
              columnspacing=0.8, borderpad=0, borderaxespad=0)

# GDP, Interest and Unemployment
setup_axis(ax1, 'GDP, Interest and Unemployment', (-7.5, 11.5), [-5, 0, 5, 10])
ax1.plot(gdp_year, gdp, color='k', lw=LW, label='GDP')
ax1.plot(series_time(tbill_start, tbill_step, tbill), tbill, color=BLUE, lw=LW, label='T-Bill')
ax1.plot(series_time(unemp_start, unemp_step, unemp), unemp, color='#ff0000', lw=LW,
         label='unemployment rate')
ax1.legend(loc='center right', bbox_to_anchor=(0.968, 0.131), ncol=3, **leg_kw)

# Investment and Stock Prices
setup_axis(ax2, 'Investment and Stock Prices', (-52, 30), [-40, -20, 0, 20])
ax2.plot(inv_year, inv, color='k', lw=LW, label='investment')
ax2.plot(series_time(sp_start, sp_step, sp500), sp500, color=BLUE, lw=LW, label='S&P 500')
ax2.legend(loc='center right', bbox_to_anchor=(0.967, 0.132), ncol=2, **leg_kw)

# Productivities
setup_axis(ax3, 'Productivities', (-5, 3), [-4, -2, 0, 2])
ax3.plot(series_time(tfp_start, tfp_step, tfp), tfp, color='k', lw=LW, label='TFP')
ax3.plot(series_time(lp_start, lp_step, labprod), labprod, color=BLUE, lw=LW,
         label='labour productivity')
ax3.legend(loc='center right', bbox_to_anchor=(0.962, 0.135), ncol=2, **leg_kw)

fig.savefig('out.png', dpi=100)
